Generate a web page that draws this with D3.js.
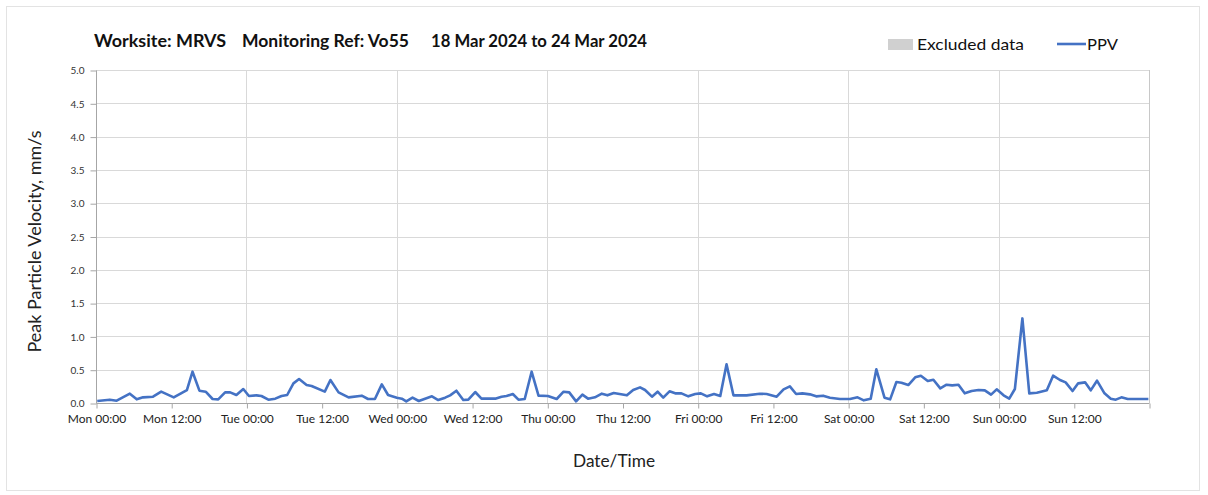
<!DOCTYPE html>
<html>
<head>
<meta charset="utf-8">
<script src="https://cdn.jsdelivr.net/npm/d3@7"></script>
<style>
  html, body { margin: 0; padding: 0; background: #fff; }
  svg { display: block; }
  text { font-family: Lato, "Open Sans", sans-serif; }
</style>
</head>
<body>
<svg id="chart" width="1208" height="495"></svg>
<script>
// Hours elapsed since Mon 18 Mar 2024 00:00 for each reading
const hours = [
  0.2, 2.2, 3.3, 5.4, 6.5, 7.5, 9.1, 10.4, 12.4, 14.5, 15.4, 16.5, 17.5, 18.6, 19.5, 20.6,
  21.4, 22.4, 23.5, 24.4, 25.6, 26.4, 27.5, 28.6, 29.6, 30.5, 31.5, 32.4, 33.6, 34.4, 36.5,
  37.4, 38.7, 40.3, 42.4, 43.4, 44.5, 45.6, 46.6, 48.0, 48.8, 49.5, 50.5, 51.5, 52.5, 53.6,
  54.6, 55.7, 56.5, 57.5, 58.6, 59.4, 60.5, 61.5, 63.7, 64.7, 65.5, 66.5, 67.4, 68.4, 69.5,
  70.6, 72.1, 73.5, 74.6, 75.5, 76.6, 77.6, 78.5, 79.6, 80.7, 81.6, 82.6, 84.7, 85.7, 86.8,
  87.6, 88.7, 89.6, 90.5, 91.5, 92.4, 93.4, 94.5, 95.6, 96.5, 97.5, 98.6, 99.6, 100.6, 101.7,
  103.8, 105.9, 107.0, 108.6, 109.7, 110.7, 111.7, 112.7, 113.9, 114.9, 116.0, 117.1, 118.7,
  120.3, 121.5, 122.5, 123.6, 124.5, 125.8, 126.7, 127.7, 128.5, 129.6, 130.7, 131.6, 132.7,
  133.6, 134.7, 135.7, 136.6, 137.6, 138.6, 139.7, 140.8, 141.8, 142.8, 143.7, 144.8, 145.7,
  146.6, 147.8, 148.9, 150.1, 151.7, 152.7, 153.8, 154.7, 155.8, 156.7, 157.8, 158.7, 159.7,
  160.9, 161.9, 162.7, 163.6, 164.6, 167.9
];

// Peak particle velocity readings, mm/s
const ppv = [
  0.03, 0.05, 0.035, 0.14, 0.055, 0.085, 0.095, 0.17, 0.085, 0.195, 0.47, 0.185, 0.17, 0.06, 0.055, 0.16,
  0.16, 0.12, 0.21, 0.105, 0.115, 0.105, 0.05, 0.065, 0.105, 0.12, 0.295, 0.36, 0.27, 0.255, 0.17,
  0.345, 0.16, 0.085, 0.11, 0.06, 0.06, 0.28, 0.12, 0.08, 0.065, 0.025, 0.08, 0.03, 0.065, 0.1,
  0.045, 0.08, 0.115, 0.185, 0.045, 0.05, 0.165, 0.065, 0.065, 0.095, 0.105, 0.135, 0.05, 0.06, 0.47,
  0.11, 0.105, 0.06, 0.17, 0.16, 0.025, 0.125, 0.065, 0.085, 0.14, 0.115, 0.15, 0.115, 0.195, 0.235,
  0.195, 0.095, 0.17, 0.08, 0.175, 0.145, 0.145, 0.1, 0.135, 0.145, 0.1, 0.135, 0.105, 0.58, 0.115,
  0.115, 0.14, 0.135, 0.095, 0.205, 0.25, 0.135, 0.145, 0.13, 0.1, 0.11, 0.08, 0.06,
  0.06, 0.085, 0.04, 0.065, 0.505, 0.08, 0.055, 0.315, 0.305, 0.27, 0.385, 0.41, 0.33,
  0.35, 0.22, 0.275, 0.265, 0.275, 0.145, 0.18, 0.195, 0.19, 0.125, 0.205, 0.115, 0.065,
  0.21, 1.27, 0.145, 0.155, 0.19, 0.41, 0.345, 0.31, 0.18, 0.295, 0.31, 0.19, 0.335,
  0.145, 0.065, 0.05, 0.085, 0.06, 0.06
];

const dayNames = ["Mon", "Tue", "Wed", "Thu", "Fri", "Sat", "Sun"];
const yTicks = [0, 0.5, 1.0, 1.5, 2.0, 2.5, 3.0, 3.5, 4.0, 4.5, 5.0];
const xTickHours = d3.range(0, 169, 12);

const titleParts = [
  { text: "Worksite: MRVS", x: 94, w: 132 },
  { text: "Monitoring Ref: Vo55", x: 242, w: 167 },
  { text: "18 Mar 2024 to 24 Mar 2024", x: 431, w: 216 }
];

const svg = d3.select("#chart");
const plot = { left: 96, right: 1149, top: 70, bottom: 403 };

// outer frame
svg.append("rect")
  .attr("x", 6.5).attr("y", 6.5)
  .attr("width", 1193).attr("height", 484)
  .attr("fill", "#fff").attr("stroke", "#e3e3e3");

const x = d3.scaleLinear().domain([0, 168]).range([plot.left, plot.right]);
const y = d3.scaleLinear().domain([0, 5]).range([plot.bottom, plot.top]);

// horizontal gridlines
svg.append("g").selectAll("line").data(yTicks.filter(v => v > 0)).join("line")
  .attr("x1", plot.left).attr("x2", plot.right)
  .attr("y1", d => Math.round(y(d)) + 0.5).attr("y2", d => Math.round(y(d)) + 0.5)
  .attr("stroke", "#d9d9d9").attr("stroke-width", 1);

// vertical gridlines at midnight
svg.append("g").selectAll("line").data(d3.range(24, 169, 24)).join("line")
  .attr("x1", d => Math.round(x(d)) + 0.5).attr("x2", d => Math.round(x(d)) + 0.5)
  .attr("y1", plot.top).attr("y2", plot.bottom)
  .attr("stroke", "#d9d9d9").attr("stroke-width", 1);

// y axis
const yAxis = d3.axisLeft(y).tickValues(yTicks).tickFormat(d3.format(".1f"))
  .tickSize(6).tickPadding(6);
const gy = svg.append("g").attr("transform", `translate(${plot.left + 0.5},0.5)`).call(yAxis);
gy.select(".domain").attr("stroke", "#a6a6a6").attr("d", `M0,${plot.top}V${plot.bottom}`);
gy.selectAll(".tick line").attr("stroke", "#a6a6a6");
gy.selectAll(".tick text").attr("fill", "#333").style("font-size", "10px")
  .style("font-family", "Lato, 'Open Sans', sans-serif");

// x axis
const xAxis = d3.axisBottom(x).tickValues(xTickHours)
  .tickFormat(h => h >= 168 ? "" : `${dayNames[Math.floor(h / 24)]} ${h % 24 === 0 ? "00:00" : "12:00"}`)
  .tickSize(5).tickPadding(6);
const gx = svg.append("g").attr("transform", `translate(0.5,${plot.bottom + 0.5})`).call(xAxis);
gx.select(".domain").attr("stroke", "#a6a6a6").attr("d", `M${plot.left},0H${plot.right}`);
gx.selectAll(".tick line").attr("stroke", "#a6a6a6");
gx.selectAll(".tick text").attr("fill", "#222").style("font-size", "12px")
  .style("font-family", "Lato, 'Open Sans', sans-serif");

// right edge of plot
svg.append("line")
  .attr("x1", plot.right + 0.5).attr("x2", plot.right + 0.5)
  .attr("y1", plot.top).attr("y2", plot.bottom)
  .attr("stroke", "#c8c8c8");

// PPV line
const series = hours.map((h, i) => ({ h, v: ppv[i] }));
svg.append("path")
  .datum(series)
  .attr("fill", "none")
  .attr("stroke", "#4472c4")
  .attr("stroke-width", 2.6)
  .attr("stroke-linejoin", "round")
  .attr("d", d3.line().x(d => x(d.h)).y(d => y(d.v)));

// title
svg.append("g").selectAll("text").data(titleParts).join("text")
  .attr("x", d => d.x).attr("y", 47)
  .attr("fill", "#111")
  .attr("textLength", d => d.w).attr("lengthAdjust", "spacingAndGlyphs")
  .style("font-size", "16.5px").style("font-weight", "bold")
  .text(d => d.text);

// legend
svg.append("rect").attr("x", 888).attr("y", 39).attr("width", 25).attr("height", 11).attr("fill", "#d0d0d0");
svg.append("text").attr("x", 917).attr("y", 50).attr("fill", "#111")
  .attr("textLength", 107).attr("lengthAdjust", "spacingAndGlyphs")
  .style("font-size", "16px").text("Excluded data");
svg.append("line").attr("x1", 1057).attr("x2", 1086).attr("y1", 44).attr("y2", 44)
  .attr("stroke", "#4472c4").attr("stroke-width", 2.6);
svg.append("text").attr("x", 1087).attr("y", 50).attr("fill", "#111")
  .attr("textLength", 31).attr("lengthAdjust", "spacingAndGlyphs")
  .style("font-size", "16px").text("PPV");

// axis titles
svg.append("text")
  .attr("transform", `translate(41,${(plot.top + plot.bottom) / 2 + 5}) rotate(-90)`)
  .attr("text-anchor", "middle").attr("fill", "#222")
  .attr("textLength", 222).attr("lengthAdjust", "spacingAndGlyphs")
  .style("font-size", "16.5px").text("Peak Particle Velocity, mm/s");
svg.append("text")
  .attr("x", 614).attr("y", 467).attr("text-anchor", "middle").attr("fill", "#222")
  .attr("textLength", 82).attr("lengthAdjust", "spacingAndGlyphs")
  .style("font-size", "16.5px").text("Date/Time");
</script>
</body>
</html>
